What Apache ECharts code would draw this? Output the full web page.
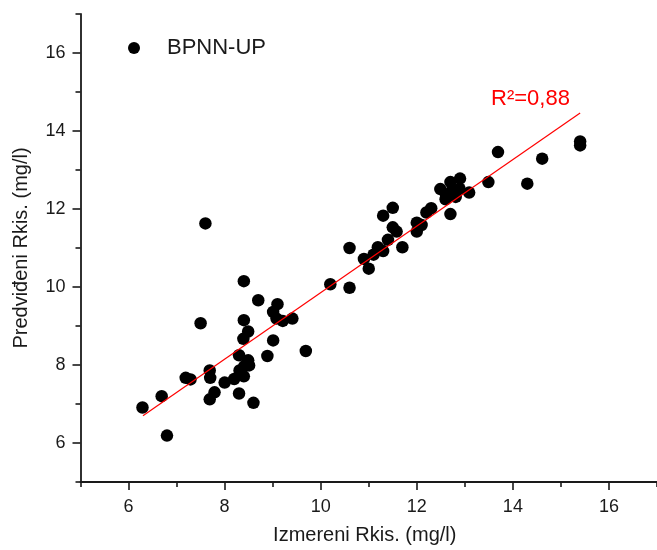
<!DOCTYPE html>
<html>
<head>
<meta charset="utf-8">
<script src="https://cdn.jsdelivr.net/npm/echarts@6/dist/echarts.min.js"></script>
<style>
  html, body { margin: 0; padding: 0; background: #fff; }
  #chart { width: 657px; height: 550px; }
</style>
</head>
<body>
<div id="chart"></div>
<script>
// Measured vs. predicted Rkis values (mg/l) for the BPNN-UP model
const measured = [
  6.29, 6.69, 6.80, 7.19, 7.29, 7.50, 7.60, 7.69, 7.70, 7.69,
  7.79, 8.00, 8.20, 8.30, 8.30, 8.31, 8.40, 8.41, 8.49, 8.51,
  8.60, 8.89, 9.01, 8.39, 8.49, 8.40, 8.40, 8.70, 9.10, 9.01,
  9.08, 9.21, 9.41, 9.69, 10.20, 10.60, 10.60, 10.90, 11.00, 11.10,
  11.19, 11.30, 11.40, 11.50, 11.58, 11.30, 11.50, 11.70, 12.00, 12.00,
  12.10, 12.20, 12.30, 12.70, 12.49, 12.70, 12.90, 12.61, 12.81, 12.89,
  12.60, 12.72, 13.09, 13.49, 13.69, 14.30, 14.61, 15.40, 15.40
];
const predicted = [
  6.91, 7.20, 6.19, 7.67, 7.63, 9.07, 11.63, 7.86, 7.67, 7.12,
  7.30, 7.55, 7.64, 8.25, 7.27, 7.86, 7.71, 7.97, 8.12, 7.99,
  7.03, 8.23, 8.63, 8.67, 8.86, 9.15, 10.15, 9.66, 9.56, 9.36,
  9.19, 9.13, 9.19, 8.36, 10.07, 9.98, 11.00, 10.72, 10.47, 10.83,
  11.02, 10.92, 11.21, 11.53, 11.42, 11.83, 12.03, 11.02, 11.65, 11.42,
  11.59, 11.91, 12.02, 11.87, 12.51, 12.69, 12.78, 12.35, 12.31, 12.52,
  12.25, 12.45, 12.42, 12.69, 13.46, 12.65, 13.29, 13.73, 13.63
];

// Linear fit end points
const fitX = [6.3, 15.4];
const fitY = [6.70, 14.46];
const r2Text = 'R²=0,88';

// Axis range and tick positions
const axisMin = 5;
const axisMax = 17;
const majorTicks = [6, 8, 10, 12, 14, 16];
const minorTicks = [5, 7, 9, 11, 13, 15, 17];

const FONT = '"Liberation Sans", Arial, Helvetica, sans-serif';
const INK = '#1a1a1a';

const points = measured.map((x, i) => [x, predicted[i]]);
const fitLine = fitX.map((x, i) => [x, fitY[i]]);

function majorAxis(extra) {
  return Object.assign({
    type: 'value',
    min: axisMin,
    max: axisMax,
    splitLine: { show: false },
    axisLine: { show: true, onZero: false, lineStyle: { color: INK, width: 1.8 } },
    axisTick: { show: true, inside: false, length: 8, customValues: majorTicks,
                lineStyle: { color: INK, width: 1.6 } },
    nameLocation: 'middle'
  }, extra);
}

function minorAxis(extra) {
  return Object.assign({
    type: 'value',
    min: axisMin,
    max: axisMax,
    splitLine: { show: false },
    axisLine: { show: false, onZero: false },
    axisTick: { show: true, inside: false, length: 5, customValues: minorTicks,
                lineStyle: { color: INK, width: 1.6 } },
    axisLabel: { show: false }
  }, extra);
}

const chart = echarts.init(document.getElementById('chart'), null, { renderer: 'canvas' });

chart.setOption({
  animation: false,
  backgroundColor: '#ffffff',
  grid: { left: 80.5, top: 14, width: 582.4, height: 472, containLabel: false },
  legend: {
    show: true,
    left: 123,
    top: 32,
    icon: 'circle',
    itemWidth: 12,
    itemHeight: 12,
    data: ['BPNN-UP'],
    textStyle: { color: INK, fontFamily: FONT, fontSize: 22, padding: [0, 0, 0, 22] }
  },
  xAxis: [
    majorAxis({
      position: 'bottom',
      name: 'Izmereni Rkis. (mg/l)',
      nameGap: 43,
      nameTextStyle: { color: INK, fontFamily: FONT, fontSize: 20, padding: [0, 8, 0, 0] },
      axisLabel: { show: true, customValues: majorTicks, color: INK,
                   fontFamily: FONT, fontSize: 18, margin: 16 }
    }),
    minorAxis({ position: 'bottom' })
  ],
  yAxis: [
    majorAxis({
      position: 'left',
      name: 'Predviđeni Rkis. (mg/l)',
      nameGap: 49,
      nameTextStyle: { color: INK, fontFamily: FONT, fontSize: 20 },
      axisLabel: { show: true, customValues: majorTicks, color: INK,
                   fontFamily: FONT, fontSize: 18, margin: 15 }
    }),
    minorAxis({ position: 'left' })
  ],
  series: [
    {
      name: 'BPNN-UP',
      type: 'scatter',
      xAxisIndex: 0,
      yAxisIndex: 0,
      symbol: 'circle',
      symbolSize: 12.5,
      itemStyle: { color: '#000000', opacity: 1 },
      data: points,
      z: 2
    },
    {
      name: 'fit',
      type: 'line',
      xAxisIndex: 0,
      yAxisIndex: 0,
      symbol: 'none',
      lineStyle: { color: '#ff0000', width: 1.2 },
      data: fitLine,
      z: 3
    }
  ],
  graphic: [
    {
      type: 'text',
      left: 491,
      top: 88,
      style: {
        text: r2Text,
        fill: '#ff0000',
        font: '22px ' + FONT
      }
    }
  ]
});
</script>
</body>
</html>
